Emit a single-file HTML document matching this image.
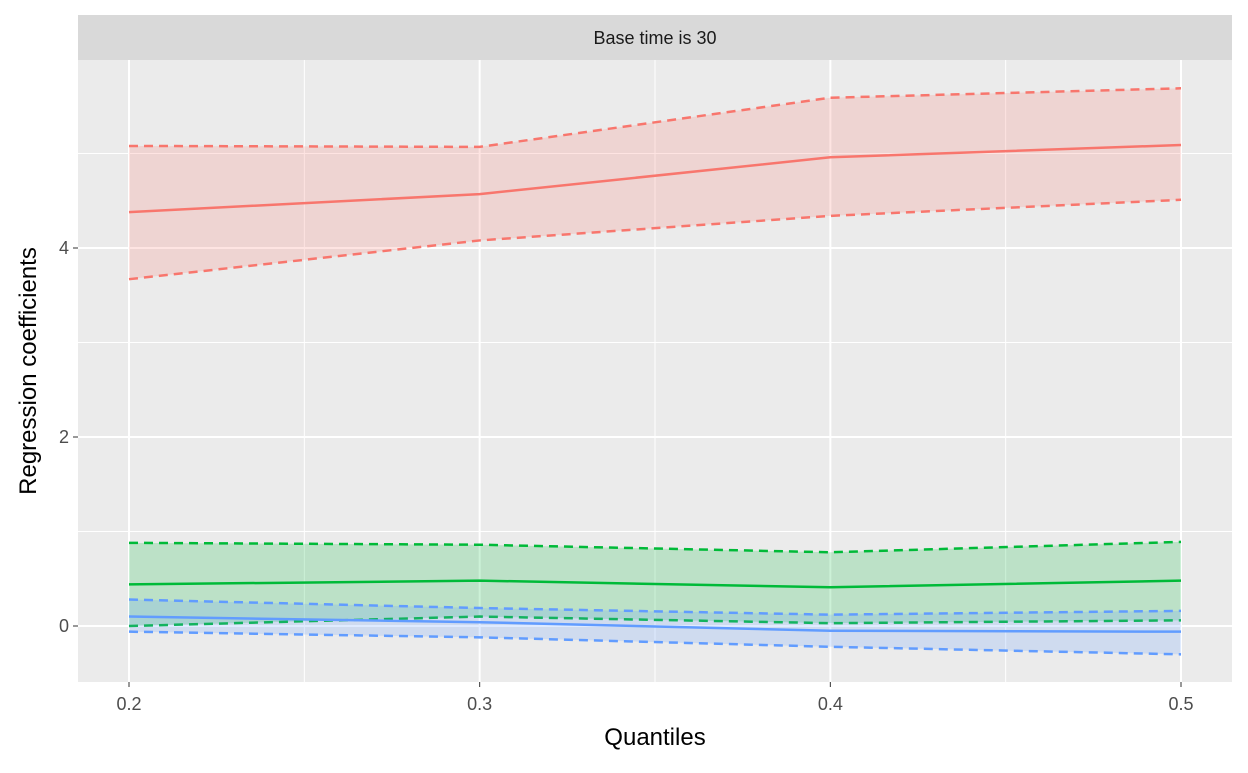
<!DOCTYPE html>
<html><head><meta charset="utf-8"><style>
body{margin:0;background:#fff;font-family:"Liberation Sans",sans-serif}
svg text{font-family:"Liberation Sans",sans-serif}
</style></head><body>
<svg id="chart" width="1248" height="768" xmlns="http://www.w3.org/2000/svg">
<rect x="78" y="15" width="1154" height="45" fill="#d9d9d9"/>
<text x="655" y="44" font-size="18" text-anchor="middle" fill="#1a1a1a">Base time is 30</text>
<rect x="78" y="60" width="1154" height="622" fill="#ebebeb"/>
<g id="grid"></g>
<g id="series"></g>
<g id="axes"></g>
<text x="655" y="745" font-size="24" text-anchor="middle" fill="#000">Quantiles</text>
<text transform="translate(36,371) rotate(-90)" font-size="24" text-anchor="middle" fill="#000">Regression coefficients</text>
</svg>
<script>
const quantiles=[0.2,0.3,0.4,0.5];
const redMid=[4.38,4.57,4.96,5.09];
const redUp=[5.08,5.07,5.59,5.69];
const redLo=[3.67,4.08,4.34,4.51];
const greenMid=[0.44,0.48,0.41,0.48];
const greenUp=[0.88,0.86,0.78,0.89];
const greenLo=[0.0,0.1,0.03,0.06];
const blueMid=[0.1,0.04,-0.05,-0.06];
const blueUp=[0.28,0.19,0.12,0.16];
const blueLo=[-0.06,-0.12,-0.22,-0.3];
const xTicks=[0.2,0.3,0.4,0.5];
const yTicks=[0,2,4];
const NS="http://www.w3.org/2000/svg";
const X=v=>129+(v-0.2)*3506.7;
const Y=v=>626-v*94.5;
function mk(t,a,p){const e=document.createElementNS(NS,t);for(const k in a)e.setAttribute(k,a[k]);p.appendChild(e);return e;}
const grid=document.getElementById('grid'),ser=document.getElementById('series'),ax=document.getElementById('axes');
for(let i=0;i<xTicks.length-1;i++){const v=(xTicks[i]+xTicks[i+1])/2;
const l=mk('line',{x1:X(v),x2:X(v),y1:60,y2:682,stroke:'#fff','stroke-width':1},grid);

}
for(let i=0;i<yTicks.length;i++){const v=yTicks[i]+1;
const l=mk('line',{x1:78,x2:1232,y1:Y(v),y2:Y(v),stroke:'#fff','stroke-width':1},grid);

}
xTicks.forEach(v=>{const l=mk('line',{x1:X(v),x2:X(v),y1:60,y2:682,stroke:'#fff','stroke-width':2},grid);


mk('line',{x1:X(v),x2:X(v),y1:682,y2:687,stroke:'#333','stroke-width':1},ax);
const t=mk('text',{x:X(v),y:710,'font-size':18,'text-anchor':'middle',fill:'#4d4d4d'},ax);t.textContent=v.toFixed(1);

});
yTicks.forEach(v=>{const l=mk('line',{x1:78,x2:1232,y1:Y(v),y2:Y(v),stroke:'#fff','stroke-width':2},grid);


mk('line',{x1:73,x2:78,y1:Y(v),y2:Y(v),stroke:'#333','stroke-width':1},ax);
const t=mk('text',{x:69,y:Y(v)+6,'font-size':18,'text-anchor':'end',fill:'#4d4d4d'},ax);t.textContent=v;

});
function pts(a){return a.map((v,i)=>X(quantiles[i])+','+Y(v));}
function draw(name,col,fill,mid,up,lo){
const r=mk('polygon',{points:pts(up).concat(pts(lo).reverse()).join(' '),fill:fill,'fill-opacity':0.2},ser);


[[up,'upper'],[lo,'lower']].forEach(([a,n])=>{const l=mk('polyline',{points:pts(a).join(' '),fill:'none',stroke:col,'stroke-width':2.5,'stroke-dasharray':'9,6'},ser);

});
const m=mk('polyline',{points:pts(mid).join(' '),fill:'none',stroke:col,'stroke-width':2.5},ser);

}
draw('red-series','#f8766d','#f8766d',redMid,redUp,redLo);
draw('green-series','#00ba38','#00ba38',greenMid,greenUp,greenLo);
draw('blue-series','#619cff','#619cff',blueMid,blueUp,blueLo);
</script>
</body></html>
